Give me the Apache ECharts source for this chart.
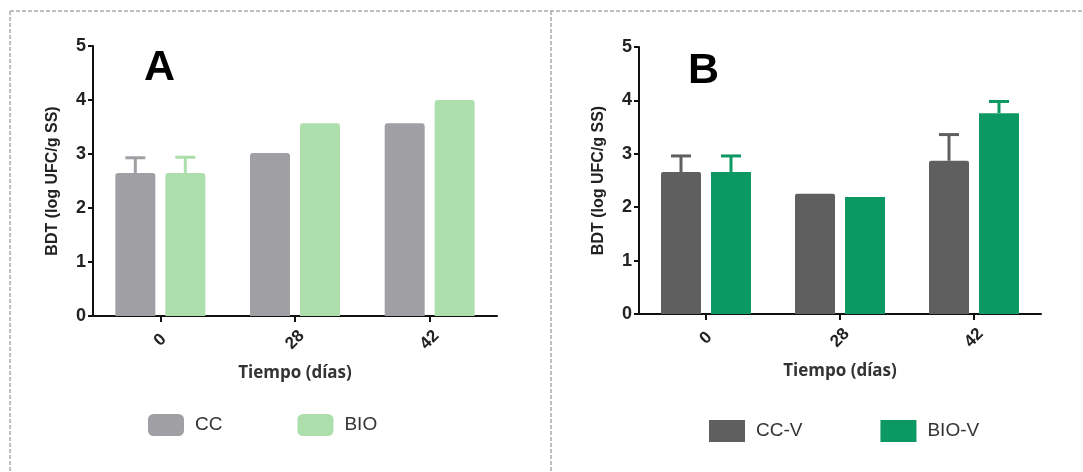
<!DOCTYPE html>
<html>
<head>
<meta charset="utf-8">
<script src="https://cdn.jsdelivr.net/npm/echarts@6/dist/echarts.min.js"></script>
<style>
  html, body { margin: 0; padding: 0; background: #fff; }
  #chart { width: 1083px; height: 472px; }
</style>
</head>
<body>
<div id="chart"></div>
<script>
// categorias (dias)
var days = ["0", "28", "42"];
var yTicks = [0, 1, 2, 3, 4, 5];

// panel A
var ccA = [2.65, 3.02, 3.57];
var bioA = [2.65, 3.57, 4.0];
var ccAErr = [0.28, null, null];
var bioAErr = [0.29, null, null];

// panel B
var ccV = [2.66, 2.25, 2.87];
var bioV = [2.66, 2.19, 3.76];
var ccVErr = [0.30, null, 0.49];
var bioVErr = [0.30, null, 0.22];

var colCC = "#a09fa4", colBIO = "#acdfac";
var colCCV = "#5f5f5f", colBIOV = "#0c9862";
var BAR_W = 40, BAR_GAP = 0.25;
var FONT = "Liberation Sans, Arial, sans-serif";

var chartDom = echarts.init(document.getElementById("chart"));

function errData(vals, errs) {
  var out = [];
  errs.forEach(function (e, i) {
    if (e != null) out.push([i, vals[i], e]);
  });
  return out;
}

function errSeries(name, vals, errs, color, side, axisIdx) {
  return {
    name: name,
    type: "custom",
    xAxisIndex: axisIdx,
    yAxisIndex: axisIdx,
    z: 1,
    silent: true,
    data: errData(vals, errs),
    renderItem: function (params, api) {
      var i = api.value(0);
      var base = api.coord([i, api.value(1)]);
      var top = api.coord([i, api.value(1) + api.value(2)]);
      var off = side * (BAR_W * (1 + BAR_GAP)) / 2;
      var x = base[0] + off;
      var st = { stroke: color, lineWidth: 3 };
      return {
        type: "group",
        children: [
          { type: "line", shape: { x1: x, y1: base[1], x2: x, y2: top[1] }, style: st },
          { type: "line", shape: { x1: x - 10, y1: top[1], x2: x + 10, y2: top[1] }, style: st }
        ]
      };
    }
  };
}

function barSeries(name, vals, color, axisIdx, radius) {
  return {
    name: name,
    type: "bar",
    xAxisIndex: axisIdx,
    yAxisIndex: axisIdx,
    barWidth: BAR_W,
    barGap: BAR_GAP * 100 + "%",
    z: 2,
    itemStyle: { color: color, borderRadius: radius },
    data: vals
  };
}

function xAxisCfg(idx) {
  return {
    type: "category",
    gridIndex: idx,
    data: days,
    name: "Tiempo (días)",
    nameLocation: "middle",
    nameGap: 49,
    nameTextStyle: { fontFamily: "Open Sans, sans-serif", fontWeight: "bold", fontSize: 17, color: "#333" },
    axisLine: { lineStyle: { color: "#111", width: 2 } },
    axisTick: { show: true, alignWithLabel: true, length: 6, lineStyle: { color: "#111", width: 2 } },
    axisLabel: {
      rotate: 45, align: "center", verticalAlign: "middle", margin: 24,
      fontFamily: FONT, fontWeight: "bold", fontSize: 17, color: "#222"
    }
  };
}

function yAxisCfg(idx) {
  return {
    type: "value",
    gridIndex: idx,
    min: yTicks[0],
    max: yTicks[yTicks.length - 1],
    interval: 1,
    name: "BDT (log UFC/g SS)",
    nameLocation: "middle",
    nameGap: 32,
    nameTextStyle: { fontFamily: FONT, fontWeight: "bold", fontSize: 16, color: "#222" },
    splitLine: { show: false },
    axisLine: { show: true, lineStyle: { color: "#111", width: 2 } },
    axisTick: { show: true, length: 5, lineStyle: { color: "#111", width: 2 } },
    axisLabel: { fontFamily: FONT, fontWeight: "bold", fontSize: 18, color: "#222", margin: 7 }
  };
}

var dashStyle = { stroke: "#aaaaaa", lineWidth: 1.5, lineDash: [4, 2] };

var option = {
  animation: false,
  grid: [
    { left: 93, top: 46, width: 404, height: 270 },
    { left: 639, top: 47, width: 402, height: 267 }
  ],
  xAxis: [xAxisCfg(0), xAxisCfg(1)],
  yAxis: [yAxisCfg(0), yAxisCfg(1)],
  legend: [
    {
      data: ["CC", "BIO"],
      left: 143, top: 409,
      itemWidth: 36, itemHeight: 22, itemGap: 75,
      icon: "roundRect",
      textStyle: { fontFamily: FONT, fontSize: 19, color: "#333", padding: [0, 0, 0, 6] }
    },
    {
      data: ["CC-V", "BIO-V"],
      left: 704, top: 415,
      itemWidth: 36, itemHeight: 22, itemGap: 78,
      icon: "rect",
      textStyle: { fontFamily: FONT, fontSize: 19, color: "#333", padding: [0, 0, 0, 6] }
    }
  ],
  graphic: [
    { type: "line", shape: { x1: 10, y1: 11, x2: 1083, y2: 11 }, style: dashStyle, silent: true },
    { type: "line", shape: { x1: 10, y1: 11, x2: 10, y2: 472 }, style: dashStyle, silent: true },
    { type: "line", shape: { x1: 551, y1: 11, x2: 551, y2: 472 }, style: dashStyle, silent: true },
    { type: "text", left: 144, top: 47, style: { text: "A", font: "bold 43px " + FONT, fill: "#000" } },
    { type: "text", left: 688, top: 50, style: { text: "B", font: "bold 43px " + FONT, fill: "#000" } }
  ],
  series: [
    barSeries("CC", ccA, colCC, 0, [3, 3, 0, 0]),
    barSeries("BIO", bioA, colBIO, 0, [3, 3, 0, 0]),
    errSeries("CC", ccA, ccAErr, colCC, -1, 0),
    errSeries("BIO", bioA, bioAErr, colBIO, 1, 0),
    barSeries("CC-V", ccV, colCCV, 1, [2, 2, 0, 0]),
    barSeries("BIO-V", bioV, colBIOV, 1, 0),
    errSeries("CC-V", ccV, ccVErr, colCCV, -1, 1),
    errSeries("BIO-V", bioV, bioVErr, colBIOV, 1, 1)
  ]
};

chartDom.setOption(option);
</script>
</body>
</html>
